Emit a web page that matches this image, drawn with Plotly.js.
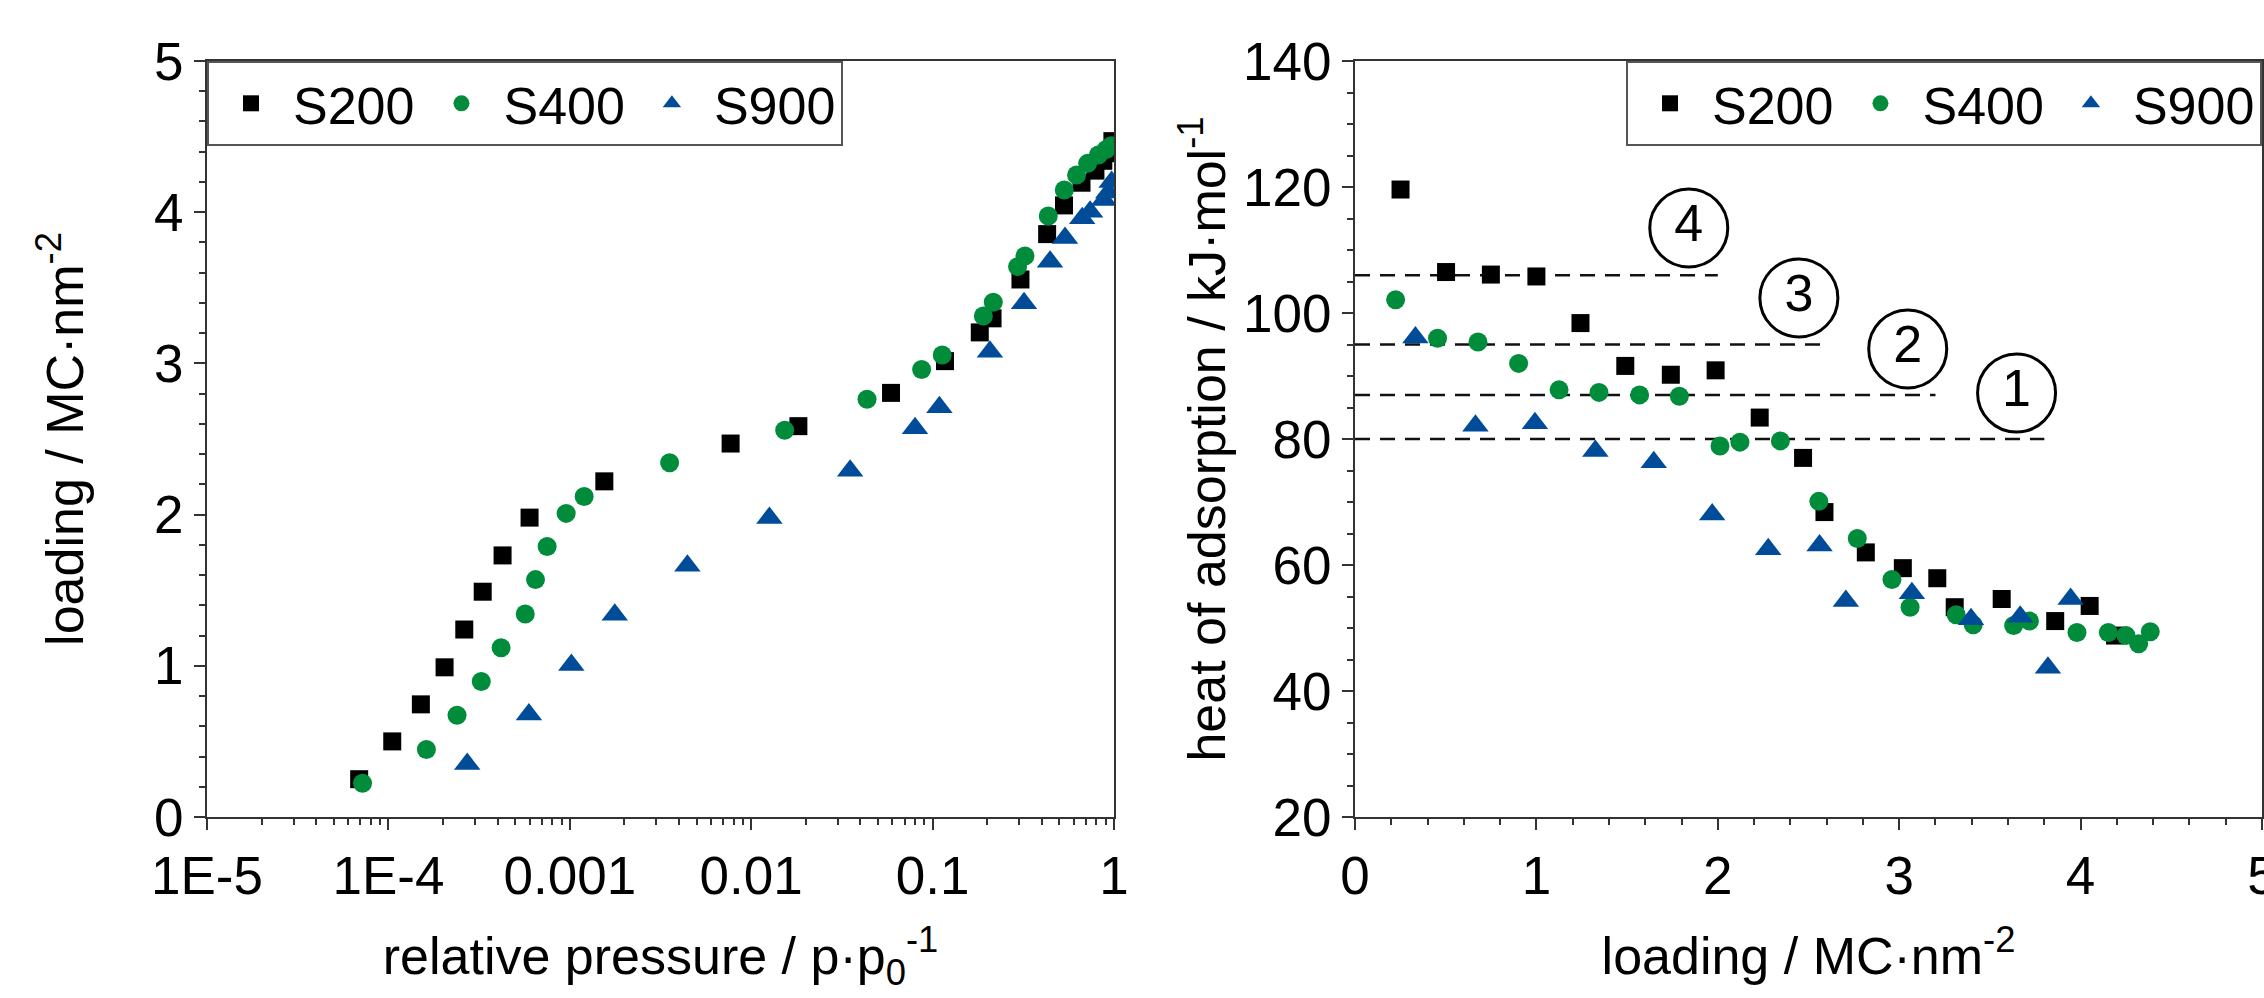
<!DOCTYPE html>
<html>
<head>
<meta charset="utf-8">
<script src="https://cdn.plot.ly/plotly-3.0.1.min.js"></script>
<style>
html,body{margin:0;padding:0;background:#fff;}
#chart{width:2264px;height:998px;}
</style>
</head>
<body>
<div id="chart"></div>
<script>
// ---------- data: left panel (isotherms) ----------
const seriesNames = ['S200', 'S400', 'S900'];

const s200_pressure = [6.9e-5, 1.05e-4, 1.51e-4, 2.04e-4, 2.62e-4, 3.31e-4, 4.26e-4, 6.0e-4, 1.55e-3, 7.7e-3, 0.0182, 0.059, 0.117, 0.182, 0.214, 0.305, 0.428, 0.53, 0.662, 0.79, 0.873, 0.95, 0.98];
const s200_loading  = [0.25, 0.50, 0.745, 0.99, 1.24, 1.49, 1.73, 1.98, 2.22, 2.47, 2.585, 2.805, 3.015, 3.205, 3.298, 3.555, 3.855, 4.045, 4.195, 4.275, 4.34, 4.39, 4.47];

const s400_pressure = [7.2e-5, 1.62e-4, 2.39e-4, 3.25e-4, 4.18e-4, 5.68e-4, 6.47e-4, 7.5e-4, 9.55e-4, 1.2e-3, 3.55e-3, 0.0153, 0.0435, 0.087, 0.113, 0.1905, 0.216, 0.294, 0.323, 0.434, 0.532, 0.622, 0.716, 0.82, 0.905, 0.965];
const s400_loading  = [0.223, 0.446, 0.673, 0.896, 1.12, 1.343, 1.57, 1.789, 2.008, 2.12, 2.343, 2.558, 2.763, 2.96, 3.055, 3.313, 3.404, 3.64, 3.71, 3.975, 4.147, 4.246, 4.323, 4.378, 4.415, 4.44];

const s900_pressure = [2.72e-4, 5.95e-4, 1.02e-3, 1.77e-3, 4.45e-3, 0.0126, 0.0351, 0.08, 0.109, 0.207, 0.319, 0.444, 0.537, 0.668, 0.738, 0.88, 0.93, 0.97];
const s900_loading  = [0.35, 0.678, 1.006, 1.338, 1.662, 1.978, 2.29, 2.571, 2.71, 3.077, 3.397, 3.673, 3.83, 3.96, 4.003, 4.08, 4.13, 4.2];

// ---------- data: right panel (heat of adsorption) ----------
const s200_n = [0.251, 0.502, 0.749, 1.0, 1.243, 1.49, 1.741, 1.988, 2.231, 2.47, 2.588, 2.816, 3.02, 3.21, 3.306, 3.565, 3.86, 4.05, 4.19];
const s200_q = [119.6, 106.5, 106.1, 105.8, 98.4, 91.6, 90.2, 90.9, 83.4, 77.0, 68.4, 62.0, 59.5, 57.9, 53.3, 54.6, 51.1, 53.5, 48.8];

const s400_n = [0.224, 0.455, 0.678, 0.902, 1.125, 1.345, 1.569, 1.788, 2.012, 2.122, 2.345, 2.557, 2.769, 2.96, 3.06, 3.314, 3.408, 3.631, 3.718, 3.98, 4.153, 4.25, 4.32, 4.384];
const s400_q = [102.1, 96.0, 95.4, 92.0, 87.8, 87.4, 87.0, 86.8, 78.9, 79.5, 79.7, 70.1, 64.2, 57.7, 53.3, 52.1, 50.5, 50.4, 51.1, 49.3, 49.3, 48.8, 47.5, 49.4];

const s900_n = [0.333, 0.664, 0.992, 1.325, 1.647, 1.969, 2.278, 2.561, 2.706, 3.07, 3.396, 3.667, 3.82, 3.945];
const s900_q = [96.1, 82.1, 82.5, 78.1, 76.3, 68.0, 62.5, 63.1, 54.3, 55.5, 51.4, 51.8, 43.7, 54.6];

// reference levels (dashed lines) and circled labels
const levelValues = [106, 95, 87, 80];
const levelEnds   = [2.0, 2.6, 3.2, 3.8];
const levelLabels = ['4', '3', '2', '1'];
const labelX      = [1.84, 2.447, 3.047, 3.647];
const labelY      = [113.5, 102.4, 94.3, 87.3];

// tick labels
const pressureTickVals = [1e-5, 1e-4, 1e-3, 1e-2, 1e-1, 1];
const pressureTickText = ['1E-5', '1E-4', '0.001', '0.01', '0.1', '1'];

// ---------- styling ----------
const FONT = 'Liberation Sans, Arial, sans-serif';
const colors = ['#000000', '#008C3A', '#004C99'];
const symbols = ['square', 'circle', 'triangle-up'];
const sizes = [18, 19, 23];

const minorLog = [];
for (let d = -5; d <= -1; d++) {
  for (let k = 2; k <= 9; k++) minorLog.push(k * Math.pow(10, d));
}

const traces = [];
const leftX = [s200_pressure, s400_pressure, s900_pressure];
const leftY = [s200_loading, s400_loading, s900_loading];
const rightX = [s200_n, s400_n, s900_n];
const rightY = [s200_q, s400_q, s900_q];

for (let i = 0; i < 3; i++) {
  traces.push({
    type: 'scatter', mode: 'markers', name: seriesNames[i],
    x: leftX[i], y: leftY[i], xaxis: 'x', yaxis: 'y', legend: 'legend',
    marker: {symbol: symbols[i], size: sizes[i], color: colors[i], line: {width: 0}},
    hoverinfo: 'skip'
  });
}
// dashed level lines (under markers of right panel)
for (let j = 0; j < levelValues.length; j++) {
  traces.push({
    type: 'scatter', mode: 'lines', showlegend: false,
    x: [0, levelEnds[j]], y: [levelValues[j], levelValues[j]],
    xaxis: 'x2', yaxis: 'y2',
    line: {color: '#111', width: 2.5, dash: '15px,10px'},
    hoverinfo: 'skip'
  });
}
for (let i = 0; i < 3; i++) {
  traces.push({
    type: 'scatter', mode: 'markers', name: seriesNames[i],
    x: rightX[i], y: rightY[i], xaxis: 'x2', yaxis: 'y2', legend: 'legend2',
    marker: {symbol: symbols[i], size: sizes[i], color: colors[i], line: {width: 0}},
    hoverinfo: 'skip'
  });
}
// circled numbers
traces.push({
  type: 'scatter', mode: 'markers+text', showlegend: false,
  x: labelX, y: labelY, text: levelLabels, textposition: 'middle center',
  xaxis: 'x2', yaxis: 'y2',
  textfont: {family: FONT, size: 52, color: '#000'},
  marker: {symbol: 'circle-open', size: 78, color: '#000', line: {width: 3}},
  hoverinfo: 'skip'
});

const W = 2264, H = 998;
const xDom1 = [207 / W, 1114 / W];
const xDom2 = [1355 / W, 2262 / W];
const yDom = [(H - 817) / H, (H - 61) / H];

const axisBase = {
  showline: true, linecolor: '#333', linewidth: 2, mirror: true,
  ticks: 'outside', ticklen: 11, tickwidth: 2, tickcolor: '#333',
  tickfont: {family: FONT, size: 53, color: '#000'},
  ticklabeloverflow: 'allow',
  showgrid: false, zeroline: false, fixedrange: true
};
const minorBase = {ticks: 'outside', ticklen: 6, tickwidth: 2, tickcolor: '#333', showgrid: false};
const titleFont = {family: FONT, size: 52, color: '#000'};

const legendBase = {
  orientation: 'h', bgcolor: '#fff', bordercolor: '#555', borderwidth: 2,
  font: {family: FONT, size: 52, color: '#000'}, itemwidth: 74
};

const layout = {
  width: W, height: H,
  margin: {l: 0, r: 0, t: 0, b: 0},
  paper_bgcolor: '#fff', plot_bgcolor: '#fff',
  font: {family: FONT, color: '#000'},
  xaxis: Object.assign({}, axisBase, {
    domain: xDom1, anchor: 'y', type: 'log', range: [-5, 0],
    tickmode: 'array', tickvals: pressureTickVals, ticktext: pressureTickText,
    minor: Object.assign({}, minorBase, {tickmode: 'array', tickvals: minorLog}),
    title: {text: 'relative pressure / p·p<sub>0</sub><sup>-1</sup>', font: titleFont, standoff: 34}
  }),
  yaxis: Object.assign({}, axisBase, {
    domain: yDom, anchor: 'x', range: [0, 5], dtick: 1, tick0: 0,
    minor: Object.assign({}, minorBase, {dtick: 0.2}),
    title: {text: 'loading / MC·nm<sup>-2</sup>', font: titleFont, standoff: 54}
  }),
  xaxis2: Object.assign({}, axisBase, {
    domain: xDom2, anchor: 'y2', range: [0, 5], dtick: 1, tick0: 0,
    minor: Object.assign({}, minorBase, {dtick: 0.2}),
    title: {text: 'loading / MC·nm<sup>-2</sup>', font: titleFont, standoff: 34}
  }),
  yaxis2: Object.assign({}, axisBase, {
    domain: yDom, anchor: 'x2', range: [20, 140], dtick: 20, tick0: 0,
    minor: Object.assign({}, minorBase, {dtick: 5}),
    title: {text: 'heat of adsorption / kJ·mol<sup>-1</sup>', font: titleFont, standoff: 1}
  }),
  legend: Object.assign({}, legendBase, {
    x: xDom1[0], xanchor: 'left', y: yDom[1], yanchor: 'top'
  }),
  legend2: Object.assign({}, legendBase, {
    x: xDom2[1], xanchor: 'right', y: yDom[1], yanchor: 'top'
  }),
  showlegend: true
};

Plotly.newPlot('chart', traces, layout, {staticPlot: true, displayModeBar: false});
</script>
</body>
</html>
